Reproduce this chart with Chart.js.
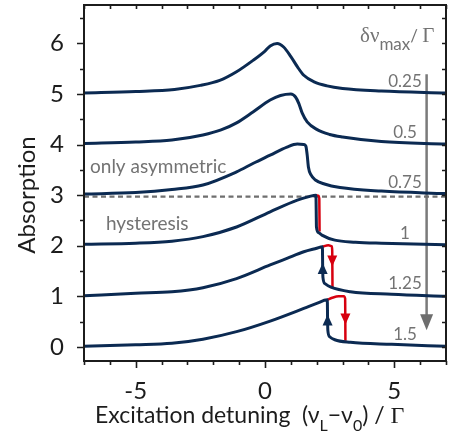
<!DOCTYPE html>
<html>
<head>
<meta charset="utf-8">
<script src="https://cdn.jsdelivr.net/npm/chart.js@4.4.0/dist/chart.umd.min.js"></script>
<style>
  html, body { margin: 0; padding: 0; background: #fff; }
</style>
</head>
<body>
<canvas id="absChart" width="450" height="435"></canvas>
<script>
// ticks
const xTickValues = [-5, 0, 5];
const yTickValues = [0, 1, 2, 3, 4, 5, 6];

// sweep amplitude of each curve and its vertical offset
const sweepLabels = ['0.25', '0.5', '0.75', '1', '1.25', '1.5'];
const curveOffsets = [5, 4, 3, 2, 1, 0];

// blue curves
const x025 = [-7, -5, -3.5, -2.5, -1.75, -1.1, -0.45, 0, 0.2, 0.47, 0.72, 1.0, 1.25, 1.5, 1.9, 2.4, 3, 4.5, 7];
const y025 = [5.02, 5.05, 5.09, 5.17, 5.27, 5.44, 5.67, 5.85, 5.95, 6.0, 5.93, 5.74, 5.54, 5.37, 5.24, 5.16, 5.11, 5.06, 5.02];

const x05 = [-7, -5, -3.6, -2.4, -1.7, -1.1, -0.45, 0.2, 0.6, 1.0, 1.18, 1.31, 1.44, 1.63, 2.0, 2.5, 3, 4.5, 7];
const y05 = [4.02, 4.05, 4.09, 4.19, 4.29, 4.43, 4.65, 4.88, 4.97, 5.0, 4.94, 4.81, 4.62, 4.45, 4.30, 4.20, 4.15, 4.06, 4.01];

const x075 = [-7, -5, -3.6, -2.4, -1.1, -0.45, 0.2, 0.85, 1.25, 1.5, 1.58, 1.63, 1.68, 1.78, 1.95, 2.3, 2.9, 4.5, 7];
const y075 = [3.02, 3.05, 3.11, 3.20, 3.46, 3.63, 3.79, 3.95, 4.01, 4.0, 3.97, 3.8, 3.55, 3.4, 3.3, 3.22, 3.15, 3.08, 3.03];

const x1 = [-7, -5, -3.6, -2.4, -1.1, 0.2, 1.25, 1.7, 1.97, 1.98, 1.99, 2.07, 2.2, 2.7, 3.5, 4.5, 7];
const y1 = [2.03, 2.05, 2.09, 2.18, 2.37, 2.67, 2.90, 2.97, 3.0, 2.7, 2.37, 2.26, 2.21, 2.11, 2.07, 2.05, 2.02];

const x125 = [-7, -5, -3.6, -2.4, -1.1, 0.2, 0.85, 1.5, 2.0, 2.22, 2.23, 2.24, 2.32, 2.55, 3.3, 4.9, 7];
const y125 = [1.01, 1.06, 1.09, 1.17, 1.35, 1.62, 1.75, 1.88, 1.95, 1.98, 1.6, 1.38, 1.25, 1.18, 1.09, 1.04, 1.0];

const x15 = [-7, -5, -3.6, -2.4, -1.1, 0.2, 1.5, 2.0, 2.41, 2.42, 2.43, 2.5, 2.7, 3.3, 4.9, 7];
const y15 = [0.01, 0.04, 0.07, 0.15, 0.30, 0.51, 0.76, 0.86, 0.93, 0.55, 0.33, 0.2, 0.14, 0.09, 0.05, 0.01];

// red branches (hysteresis)
const xRed1 = [1.97, 2.06, 2.1, 2.11];
const yRed1 = [3.0, 2.99, 2.93, 2.28];
const xRed125 = [2.22, 2.45, 2.58, 2.6, 2.61];
const yRed125 = [1.98, 2.01, 1.99, 1.9, 1.18];
const xRed15 = [2.41, 2.6, 2.85, 3.05, 3.1, 3.11];
const yRed15 = [0.93, 0.97, 1.0, 1.0, 0.95, 0.12];

// arrowheads on the jumps
const upArrowX = [2.23, 2.42];
const upArrowY = [1.55, 0.53];
const downArrowX = [2.6, 3.11];
const downArrowY = [1.7, 0.55];

// threshold line and sweep arrow
const thresholdY = 2.97;
const sweepArrowX = 6.25;
const sweepArrowY = [5.39, 0.33];

const NAVY = '#0b2a52';
const RED = '#d7000f';
const GRAY = '#737373';
const INK = '#1c1c1c';

const pts = (xs, ys) => xs.map((x, i) => ({ x: x, y: ys[i] }));

function blue(xs, ys) {
  return { data: pts(xs, ys), borderColor: NAVY, borderWidth: 3, pointRadius: 0,
    cubicInterpolationMode: 'monotone', borderJoinStyle: 'round', borderCapStyle: 'round', order: 1 };
}
function red(xs, ys) {
  return { data: pts(xs, ys), borderColor: RED, borderWidth: 2.5, pointRadius: 0,
    cubicInterpolationMode: 'monotone', borderJoinStyle: 'round', order: 2 };
}

function tri(ctx, px, py, dir, w, h, color) {
  ctx.fillStyle = color;
  ctx.beginPath();
  ctx.moveTo(px, py + dir * h / 2);
  ctx.lineTo(px - w / 2, py - dir * h / 2);
  ctx.lineTo(px + w / 2, py - dir * h / 2);
  ctx.closePath();
  ctx.fill();
}

const decor = {
  id: 'decor',
  afterDatasetsDraw(chart) {
    const ctx = chart.ctx, xs = chart.scales.x, ys = chart.scales.y;
    ctx.save();
    for (let i = 0; i < upArrowX.length; i++) {
      tri(ctx, xs.getPixelForValue(upArrowX[i]), ys.getPixelForValue(upArrowY[i]), -1, 10, 11, NAVY);
    }
    for (let i = 0; i < downArrowX.length; i++) {
      tri(ctx, xs.getPixelForValue(downArrowX[i]), ys.getPixelForValue(downArrowY[i]), 1, 10, 11, RED);
    }
    // sweep arrow head
    const tipY = ys.getPixelForValue(sweepArrowY[1]);
    tri(ctx, xs.getPixelForValue(sweepArrowX), tipY - 8, 1, 13, 16, '#6e6e6e');
    ctx.restore();
  },
  afterDraw(chart) {
    const ctx = chart.ctx, a = chart.chartArea, xs = chart.scales.x, ys = chart.scales.y;
    ctx.save();
    ctx.strokeStyle = INK;
    ctx.lineWidth = 2;
    ctx.strokeRect(a.left, a.top, a.right - a.left, a.bottom - a.top);

    ctx.lineWidth = 1.6;
    ctx.beginPath();
    // x ticks: outward on bottom, inward on top
    for (let v = -7; v <= 7; v++) {
      const px = Math.round(xs.getPixelForValue(v)) + 0.5;
      const major = v % 5 === 0;
      ctx.moveTo(px, a.bottom); ctx.lineTo(px, a.bottom + (major ? 7 : 4));
      ctx.moveTo(px, a.top); ctx.lineTo(px, a.top + 4);
    }
    // y ticks: outward on left, inward on right
    for (let v = 0; v <= 6.5; v += 0.5) {
      const py = Math.round(ys.getPixelForValue(v)) + 0.5;
      const major = Number.isInteger(v);
      ctx.moveTo(a.left, py); ctx.lineTo(a.left - (major ? 7 : 4), py);
      ctx.moveTo(a.right, py); ctx.lineTo(a.right - 4, py);
    }
    ctx.stroke();

    // axis titles
    ctx.fillStyle = INK;
    ctx.save();
    ctx.translate(27, 195);
    ctx.rotate(-Math.PI / 2);
    ctx.textAlign = 'center';
    ctx.textBaseline = 'middle';
    ctx.font = '24px Lato';
    ctx.fillText('Absorption', 0, 0);
    ctx.restore();

    const main = '23px Lato', sub = '16px Lato', serif = '24px "Liberation Serif"';
    const runs = [
      ['Excitation detuning  (\u03bd', main, 0],
      ['L', sub, 8],
      ['\u2212\u03bd', main, 0],
      ['0', sub, 8],
      [') / ', main, 0],
      ['\u0393', serif, 0]
    ];
    ctx.textAlign = 'left';
    ctx.textBaseline = 'alphabetic';
    let cx = 95;
    runs.forEach(r => {
      ctx.font = r[1];
      ctx.fillText(r[0], cx, 423 + r[2]);
      cx += ctx.measureText(r[0]).width;
    });

    // annotations
    ctx.fillStyle = GRAY;
    ctx.font = '19px Lato';
    ctx.fillText('only asymmetric', 90, 173);
    ctx.fillText('hysteresis', 106, 230);

    let tx = 360;
    ctx.font = '21px "Liberation Serif"';
    ctx.fillText('\u03b4\u03bd', tx, 42);
    tx += ctx.measureText('\u03b4\u03bd').width;
    ctx.font = '17px Lato';
    ctx.fillText('max', tx, 50);
    tx += ctx.measureText('max').width;
    ctx.fillText('/ ', tx, 42);
    tx += ctx.measureText('/ ').width;
    ctx.font = '21px "Liberation Serif"';
    ctx.fillText('\u0393', tx, 42);

    ctx.font = '17px Lato';
    ctx.textAlign = 'center';
    sweepLabels.forEach((lab, i) => {
      ctx.fillText(lab, 405, ys.getPixelForValue(curveOffsets[i]) - 7);
    });
    ctx.restore();
  }
};

const datasets = [
  blue(x025, y025), blue(x05, y05), blue(x075, y075),
  blue(x1, y1), blue(x125, y125), blue(x15, y15),
  red(xRed1, yRed1), red(xRed125, yRed125), red(xRed15, yRed15),
  { data: [{ x: -7, y: thresholdY }, { x: 7, y: thresholdY }], borderColor: '#6f6f6f',
    borderWidth: 2.2, borderDash: [5, 3.5], pointRadius: 0, order: 3 },
  { data: [{ x: sweepArrowX, y: sweepArrowY[0] }, { x: sweepArrowX, y: sweepArrowY[1] + 0.2 }],
    borderColor: '#7a7a7a', borderWidth: 2.5, pointRadius: 0, order: 3 }
];

new Chart(document.getElementById('absChart'), {
  type: 'line',
  data: { datasets: datasets },
  options: {
    responsive: false,
    animation: false,
    devicePixelRatio: 1,
    layout: { padding: { top: 5, right: 4, left: 0, bottom: 0 } },
    plugins: { legend: { display: false }, tooltip: { enabled: false } },
    scales: {
      x: {
        type: 'linear', min: -7, max: 7,
        grid: { display: false }, border: { display: false },
        afterBuildTicks: s => { s.ticks = xTickValues.map(v => ({ value: v })); },
        afterFit: s => { s.height = 74; s.paddingLeft = 0; s.paddingRight = 0; },
        ticks: { color: INK, font: { family: 'Lato', size: 24 }, padding: 8, maxRotation: 0 }
      },
      y: {
        type: 'linear', min: -0.28, max: 6.76,
        grid: { display: false }, border: { display: false },
        afterBuildTicks: s => { s.ticks = yTickValues.map(v => ({ value: v })); },
        afterFit: s => { s.width = 84; s.paddingTop = 0; s.paddingBottom = 0; },
        ticks: { color: INK, font: { family: 'Lato', size: 24 }, padding: 12 }
      }
    }
  },
  plugins: [decor]
});
</script>
</body>
</html>
